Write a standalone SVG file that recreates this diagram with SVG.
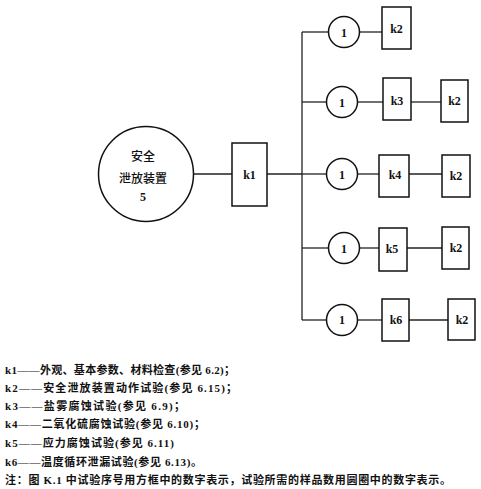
<svg xmlns="http://www.w3.org/2000/svg" width="481" height="489" viewBox="0 0 481 489">
<style>
.n{fill:#fff;stroke:#111;stroke-width:1.5}
.c{stroke:#222;stroke-width:1.3;fill:none}
.t{font-family:"Liberation Serif","Noto Sans CJK SC",serif;font-size:12px;font-weight:bold;fill:#111;text-anchor:middle;dominant-baseline:central}
.z{font-family:"Noto Sans CJK SC",sans-serif;font-size:12px;font-weight:500;fill:#111;text-anchor:middle;dominant-baseline:central}
.l{font-family:"Liberation Serif","Noto Sans CJK SC",serif;font-size:11px;font-weight:bold;fill:#111;dominant-baseline:central}
</style>
<rect width="481" height="489" fill="#fff"/>
<g id="connectors">
<line class="c" x1="194" y1="174" x2="232" y2="174"/>
<line class="c" x1="267" y1="174" x2="302" y2="174"/>
<line class="c" x1="302" y1="32" x2="302" y2="320" stroke="#666"/>
<line class="c" x1="302" y1="32" x2="328.5" y2="32"/>
<line class="c" x1="359.5" y1="32" x2="382" y2="32"/>
<line class="c" x1="302" y1="102" x2="326.5" y2="102"/>
<line class="c" x1="357.5" y1="102" x2="383" y2="102"/>
<line class="c" x1="411" y1="102" x2="441" y2="102"/>
<line class="c" x1="302" y1="174" x2="326.5" y2="174"/>
<line class="c" x1="357.5" y1="174" x2="379" y2="174"/>
<line class="c" x1="409" y1="174" x2="442" y2="174"/>
<line class="c" x1="302" y1="248" x2="328.5" y2="248"/>
<line class="c" x1="359.5" y1="248" x2="379" y2="248"/>
<line class="c" x1="407" y1="248" x2="442" y2="248"/>
<line class="c" x1="302" y1="320" x2="326.5" y2="320"/>
<line class="c" x1="357.5" y1="320" x2="382" y2="320"/>
<line class="c" x1="409" y1="320" x2="448" y2="320"/>
</g>
<g id="device"><circle class="n" cx="146" cy="174" r="47.5"/>
<text class="z" x="143" y="155">安全</text><text class="z" x="143" y="177">泄放装置</text><text class="t" x="143" y="197">5</text></g>
<g id="k1"><rect class="n" x="232" y="143" width="35" height="63"/><text class="t" x="249.5" y="175">k1</text></g>
<g id="r1c"><circle class="n" cx="344" cy="32" r="15.5"/><text class="t" x="344" y="33">1</text></g>
<g id="r1k2"><rect class="n" x="382" y="7" width="29" height="42"/><text class="t" x="396.5" y="29">k2</text></g>
<g id="r2c"><circle class="n" cx="342" cy="102" r="15.5"/><text class="t" x="342" y="103">1</text></g>
<g id="r2k3"><rect class="n" x="383" y="78" width="28" height="42"/><text class="t" x="397" y="101">k3</text></g>
<g id="r2k2"><rect class="n" x="441" y="80" width="27" height="42"/><text class="t" x="454.5" y="101">k2</text></g>
<g id="r3c"><circle class="n" cx="342" cy="174" r="15.5"/><text class="t" x="342" y="175">1</text></g>
<g id="r3k4"><rect class="n" x="379" y="155" width="30" height="42"/><text class="t" x="395" y="175">k4</text></g>
<g id="r3k2"><rect class="n" x="442" y="155" width="28" height="42"/><text class="t" x="456" y="176">k2</text></g>
<g id="r4c"><circle class="n" cx="344" cy="248" r="15.5"/><text class="t" x="344" y="249">1</text></g>
<g id="r4k5"><rect class="n" x="379" y="228" width="28" height="43"/><text class="t" x="392" y="249">k5</text></g>
<g id="r4k2"><rect class="n" x="442" y="227" width="27" height="42"/><text class="t" x="456" y="248">k2</text></g>
<g id="r5c"><circle class="n" cx="342" cy="320" r="15.5"/><text class="t" x="342" y="320">1</text></g>
<g id="r5k6"><rect class="n" x="382" y="299" width="27" height="42"/><text class="t" x="396" y="320">k6</text></g>
<g id="r5k2"><rect class="n" x="448" y="299" width="27" height="41"/><text class="t" x="462" y="320">k2</text></g>
<g id="legend">
<text class="l" x="5" y="370" textLength="230" lengthAdjust="spacing">k1——外观、基本参数、材料检查(参见 6.2)；</text>
<text class="l" x="5" y="388" textLength="232" lengthAdjust="spacing">k2——安全泄放装置动作试验(参见 6.15)；</text>
<text class="l" x="5" y="406" textLength="180" lengthAdjust="spacing">k3——盐雾腐蚀试验(参见 6.9)；</text>
<text class="l" x="5" y="424" textLength="200" lengthAdjust="spacing">k4——二氧化硫腐蚀试验(参见 6.10)；</text>
<text class="l" x="5" y="443" textLength="169" lengthAdjust="spacing">k5——应力腐蚀试验(参见 6.11)</text>
<text class="l" x="5" y="462" textLength="197" lengthAdjust="spacing">k6——温度循环泄漏试验(参见 6.13)。</text>
<text class="l" x="5" y="480" textLength="446" lengthAdjust="spacing">注：图 K.1 中试验序号用方框中的数字表示，试验所需的样品数用圆圈中的数字表示。</text>
</g>
</svg>
